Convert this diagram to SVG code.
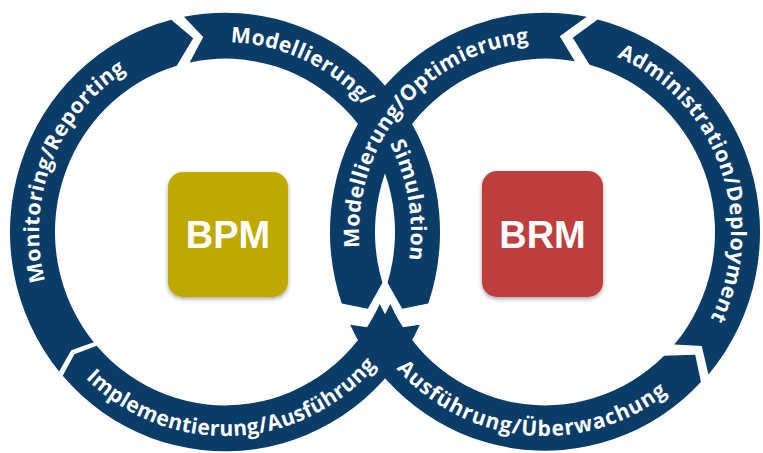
<svg xmlns="http://www.w3.org/2000/svg" width="763" height="453" viewBox="0 0 763 453">
<style>
.band{fill:#0A3C68}
.lbl{font-family:"Open Sans","DejaVu Sans",sans-serif;font-weight:700;font-size:21px;fill:#ffffff;letter-spacing:0.4px}
.wide{letter-spacing:1px}
.boxt{font-family:"Liberation Sans",Arial,sans-serif;font-weight:700;font-size:38px;fill:#ffffff}
</style>
<defs>
<filter id="sh" x="-20%" y="-20%" width="140%" height="140%"><feDropShadow dx="0" dy="2" stdDeviation="2" flood-color="#000" flood-opacity="0.35"/></filter>
<path id="pMon" d="M -161.08 93.00 A 186 186 0 0 1 -54.38 -177.87"/>
<path id="pMod" d="M -15.24 -185.38 A 186 186 0 0 1 152.92 -105.89"/>
<path id="pSim" d="M 143.31 -118.56 A 186 186 0 0 1 174.33 64.83"/>
<path id="pImp" d="M -153.21 128.56 A 200 200 0 0 0 163.83 114.72"/>
<path id="pOpt" d="M -179.66 48.14 A 186 186 0 0 1 17.50 -185.17"/>
<path id="pAdm" d="M 32.30 -183.17 A 186 186 0 0 1 142.48 119.56"/>
<path id="pAus" d="M -173.21 100 A 200 200 0 0 0 153.21 128.56"/>
</defs>
<rect width="763" height="453" fill="#ffffff"/>
<g id="ring-bpm" transform="translate(225,232) scale(1,1.02)">
<g id="seg-monitoring"><path class="band" d="M -165.90 136.76 A 215 215 0 0 1 -53.83 -208.15 L -31.77 -189.86 L -48.28 -163.00 A 170 170 0 0 0 -131.18 108.13 L -153.74 115.85 Z"/></g>
<g id="seg-modellierung-simulation"><path class="band" d="M -41.02 -211.05 A 215 215 0 0 1 203.29 70.00 L 177.20 75.22 L 162.57 49.70 A 170 170 0 0 0 -35.34 -166.29 L -21.79 -191.26 Z"/></g>
<g id="seg-implementierung"><path class="band" d="M 194.86 90.86 A 215 215 0 0 1 -162.26 141.05 L -150.65 119.83 L -128.30 111.53 A 170 170 0 0 0 154.69 70.50 L 167.54 94.79 Z"/></g>
</g>
<g id="ring-brm" transform="translate(545,232) scale(1,1.02)">
<g id="seg-optimierung"><path class="band" d="M 41.76 -210.91 A 215 215 0 0 0 -203.29 70.00 L -177.20 75.22 L -162.57 49.70 A 170 170 0 0 1 29.81 -167.37 L 14.77 -191.93 Z"/></g>
<g id="seg-ausfuehrung"><path class="band" d="M -194.86 90.86 A 215 215 0 0 0 155.95 147.10 L 150.23 120.36 L 119.15 121.25 A 170 170 0 0 1 -154.69 70.50 L -167.54 94.79 Z"/></g>
<g id="seg-deployment"><path class="band" d="M 163.49 139.63 A 215 215 0 0 0 52.74 -208.43 L 27.79 -190.48 L 44.57 -164.05 A 170 170 0 0 1 129.27 110.41 L 156.72 111.78 Z"/></g>
</g>
<g id="labels-bpm" transform="translate(225,232) scale(1,1.02)">
<text id="label-monitoring" class="lbl" text-anchor="middle"><textPath href="#pMon" startOffset="50%">Monitoring/Reporting</textPath></text>
<text id="label-modellierung" class="lbl" text-anchor="middle"><textPath href="#pMod" startOffset="50%">Modellierung/</textPath></text>
<text id="label-simulation" class="lbl" text-anchor="middle"><textPath href="#pSim" startOffset="50%">Simulation</textPath></text>
<text id="label-implementierung" class="lbl" text-anchor="middle"><textPath href="#pImp" startOffset="50%">Implementierung/Ausführung</textPath></text>
</g>
<g id="labels-brm" transform="translate(545,232) scale(1,1.02)">
<text id="label-optimierung" class="lbl" text-anchor="middle"><textPath href="#pOpt" startOffset="50%">Modellierung/Optimierung</textPath></text>
<text id="label-deployment" class="lbl" text-anchor="middle"><textPath href="#pAdm" startOffset="50%">Administration/Deployment</textPath></text>
<text id="label-ausfuehrung" class="lbl wide" text-anchor="middle"><textPath href="#pAus" startOffset="50%">Ausführung/Überwachung</textPath></text>
</g>
<g id="node-bpm"><rect x="168" y="172" width="120" height="125" rx="15" fill="#BFA800" filter="url(#sh)"/><text x="228" y="248" text-anchor="middle" class="boxt">BPM</text></g>
<g id="node-brm"><rect x="482" y="171" width="121" height="126" rx="15" fill="#BE3D3D" filter="url(#sh)"/><text x="542.5" y="248" text-anchor="middle" class="boxt">BRM</text></g>
<g id="connectors"/>
</svg>
